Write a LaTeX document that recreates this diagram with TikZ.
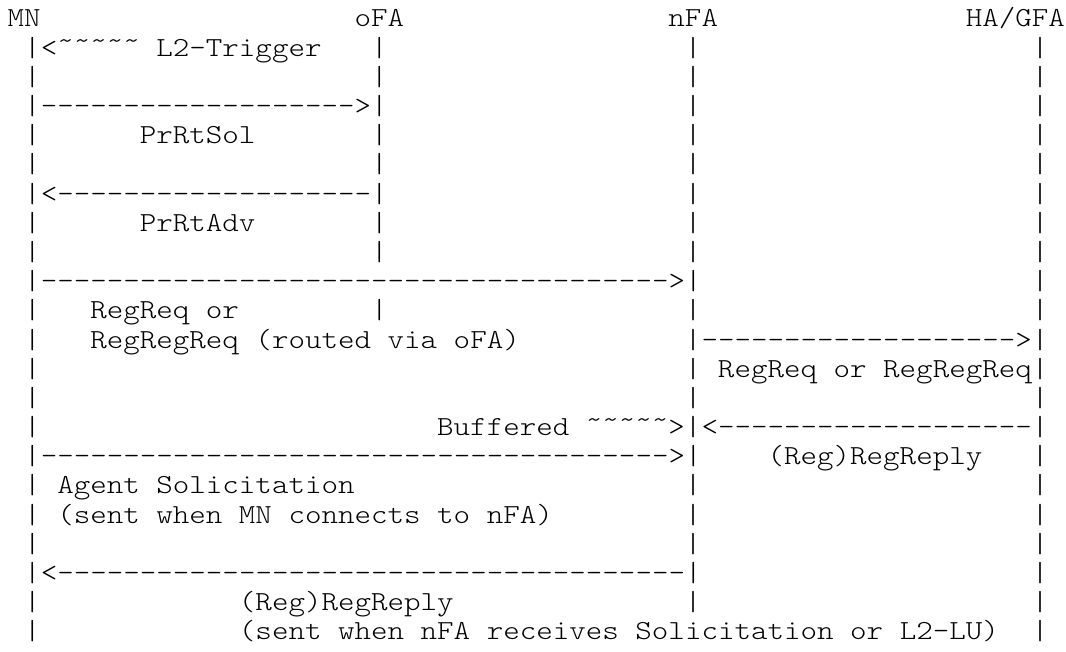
\documentclass[tikz,border=0pt]{standalone}
\usepackage{fontspec}
\setmonofont{lmmonolt10-regular.otf}[FakeStretch=1.143]
\usepackage{tikz}
\newcommand{\wave}{\char"02DC}
\newcommand{\dashes}[1]{\foreach \i in {1,...,#1}{-}}

\begin{document}
\begin{tikzpicture}[
    x=6pt, y=-10.6pt,
    glyph/.style={font=\ttfamily\fontsize{10}{10}\selectfont, inner sep=0pt, anchor=base west}
]
\useasboundingbox[fill=white] (3.4pt,-0.8pt) rectangle (390.6pt,-237.3pt);

% lifelines: column / rows with a bare bar
\foreach \c/\rows in {2/{3,5,6,8,9,11,12,13,14,15,17,18,19,21,22},
                      23/{2,3,5,6,8,9,11},
                      42/{2,3,4,5,6,7,8,9,11,14,17,18,19,21},
                      63/{2,3,4,5,6,7,8,9,10,11,14,16,17,18,19,20,21,22}}
    \foreach \r in \rows
        \node[glyph] (bar\c-\r) at (\c,\r) {|};

% names, messages and notes: row / column / text
\foreach \r/\c/\t in {1/1/MN, 1/22/oFA, 1/41/nFA, 1/59/{HA/GFA},
                      2/2/{|<\wave\wave\wave\wave\wave{} L2-Trigger},
                      4/2/{|\dashes{19}>|},
                      5/9/PrRtSol,
                      7/2/{|<\dashes{19}|},
                      8/9/PrRtAdv,
                      10/2/{|\dashes{38}>|},
                      11/6/{RegReq or},
                      12/6/{RegRegReq (routed via oFA)},
                      12/42/{|\dashes{19}>|},
                      13/42/{| RegReq or RegRegReq|},
                      15/27/{Buffered \wave\wave\wave\wave\wave>|<\dashes{19}|},
                      16/2/{|\dashes{38}>|},
                      16/47/{(Reg)RegReply},
                      17/4/{Agent Solicitation},
                      18/4/{(sent when MN connects to nFA)},
                      20/2/{|<\dashes{38}|},
                      21/15/{(Reg)RegReply},
                      22/15/{(sent when nFA receives Solicitation or L2-LU)}}
    \node[glyph] (msg\r-\c) at (\c,\r) {\t};

\end{tikzpicture}
\end{document}
